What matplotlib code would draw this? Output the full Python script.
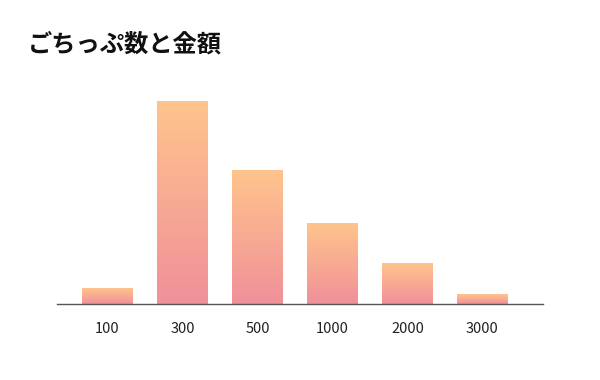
import numpy as np
import matplotlib.pyplot as plt
from matplotlib.colors import LinearSegmentedColormap

plt.rcParams['font.family'] = ['Noto Sans CJK JP', 'DejaVu Sans']

# data
categories = ['100', '300', '500', '1000', '2000', '3000']
counts = [16, 203, 134, 81, 41, 10]
title = 'ごちっぷ数と金額'

# gradient pink (bottom) -> peach (top)
cmap = LinearSegmentedColormap.from_list('peach', ['#f0909a', '#ffc48c'])

fig = plt.figure(figsize=(6, 3.8), dpi=100)
ax = fig.add_axes([57/600, 1 - 304/380, 486/600, 224/380])

x = np.arange(len(categories))
bars = ax.bar(x, counts, width=0.68, color='none', edgecolor='none')

grad = np.linspace(0, 1, 256).reshape(-1, 1)
for b in bars:
    x0, y0 = b.get_x(), b.get_y()
    w, h = b.get_width(), b.get_height()
    im = ax.imshow(grad, cmap=cmap, origin='lower', aspect='auto',
                   extent=(x0, x0 + w, y0, y0 + h), zorder=2)
    im.set_clip_path(b)

ax.set_xlim(-0.673, 5.807)
ax.set_ylim(0, 224)
ax.set_xticks(x)
ax.set_xticklabels(categories, fontsize=10.5, color='#222222')
ax.tick_params(axis='x', length=0, pad=13)
ax.set_yticks([])
for s in ['top', 'left', 'right']:
    ax.spines[s].set_visible(False)
ax.spines['bottom'].set_color('#555555')
ax.spines['bottom'].set_linewidth(1)

fig.text(28/600, 1 - 45/380, title, fontsize=17.5, fontweight='bold',
         va='center', ha='left', color='#111111')

plt.savefig('out.png', dpi=100)
